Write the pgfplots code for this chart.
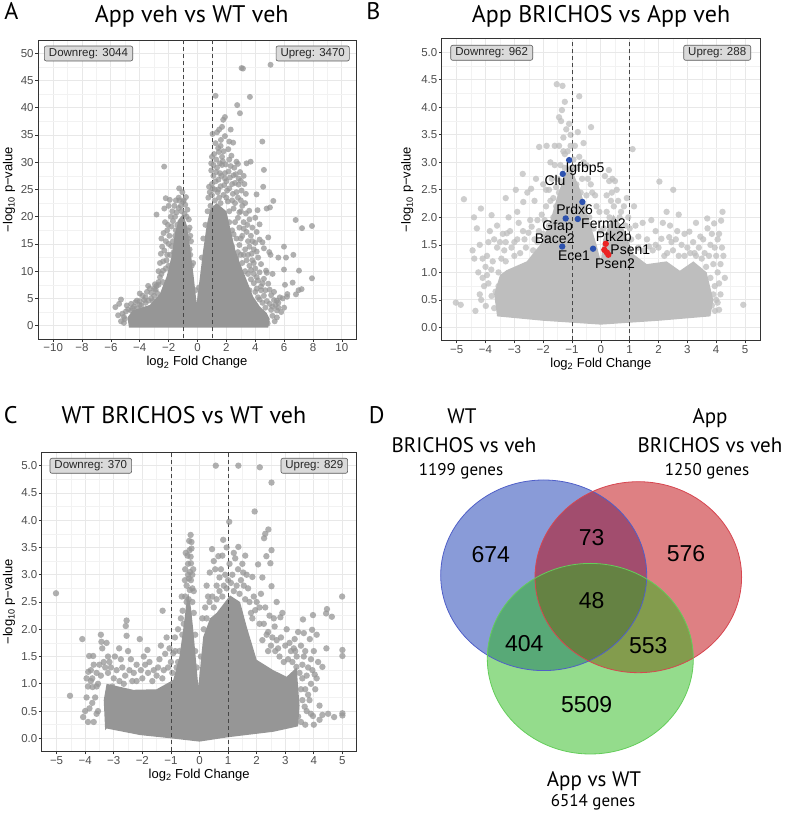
\documentclass[border=0pt]{standalone}
\usepackage{pgfplots}
\pgfplotsset{compat=1.18}
\usepackage{fontspec}
\setmainfont{Liberation Sans}
\newfontfamily\titlefont{PT Sans}
\definecolor{bordergray}{RGB}{51,51,51}
\definecolor{ticklab}{RGB}{77,77,77}
\definecolor{gridmaj}{RGB}{232,232,232}
\definecolor{gridmin}{RGB}{242,242,242}
\definecolor{massA}{RGB}{150,150,150}
\definecolor{ptA}{RGB}{150,150,150}
\definecolor{massB}{RGB}{190,190,190}
\definecolor{ptB}{RGB}{190,190,190}
\definecolor{hlblue}{RGB}{45,82,175}
\definecolor{hlred}{RGB}{235,35,35}
\definecolor{boxfill}{RGB}{218,218,218}
\definecolor{boxdraw}{RGB}{90,90,90}
\definecolor{dashc}{RGB}{70,70,70}
\definecolor{vblue}{RGB}{19,55,177}
\definecolor{vred}{RGB}{189,1,7}
\definecolor{vgreen}{RGB}{41,185,25}
\definecolor{vblueb}{RGB}{80,95,200}
\definecolor{vredb}{RGB}{215,70,80}
\definecolor{vgreenb}{RGB}{100,205,90}

\tikzset{
  dashv/.style={dashc, line width=0.8pt, dash pattern=on 4pt off 3pt},
  lbox/.style={draw=boxdraw, fill=boxfill, rounded corners=2pt, line width=0.6pt, inner sep=0pt, minimum height=15pt, font=\fontsize{11.5}{12}\selectfont, text=black!85},
  gene/.style={font=\fontsize{14}{15}\selectfont, anchor=base, text=black},
}
\pgfplotsset{
  volc/.style={
    scale only axis,
    anchor=south west,
    axis line style={bordergray, line width=0.9pt},
    tick pos=left,
    tick align=outside,
    major tick length=2.7pt,
    minor tick length=0pt,
    major tick style={bordergray, line width=0.7pt},
    grid=both,
    major grid style={gridmaj, line width=0.8pt},
    minor grid style={gridmin, line width=0.45pt},
    minor x tick num=1, minor y tick num=1,
    tick label style={font=\fontsize{11.5}{12}\selectfont, text=ticklab},
    xticklabel style={inner ysep=1.5pt},
    yticklabel style={inner xsep=1.5pt},
    label style={font=\fontsize{13}{14}\selectfont},
    xlabel={log\textsubscript{2} Fold Change},
    ylabel={−log\textsubscript{10} p−value},
    xlabel style={at={(axis description cs:0.5,0)}, anchor=base, yshift=-27pt},
  },
  dotsA/.style={only marks, mark=*, mark size=3pt, color=ptA, mark options={fill=ptA, draw opacity=0, fill opacity=0.75}},
  dotsB/.style={only marks, mark=*, mark size=3.2pt, color=ptB, mark options={fill=ptB, draw opacity=0, fill opacity=0.75}},
}

\begin{document}
\begin{tikzpicture}
\path[use as bounding box] (0pt,0pt) rectangle (790pt,813pt);

% ---------------- Panel A ----------------
\begin{axis}[volc, at={(38pt,474pt)}, width=318pt, height=299pt,
  xmin=-11.05, xmax=10.98, ymin=-2.45, ymax=52.45,
  xtick={-10,-8,-6,-4,-2,0,2,4,6,8,10}, xticklabels={−10,−8,−6,−4,−2,0,2,4,6,8,10},
  ytick={0,5,10,15,20,25,30,35,40,45,50}, yticklabels={0,5,10,15,20,25,30,35,40,45,50},
  ylabel style={at={(axis description cs:-0.0805,0.5)}, anchor=base}]
\addplot[fill=massA, draw=none] coordinates {
(-4.75,-0.35) (-4.85,1.5) (-4.5,2.8) (-3.3,3.8) (-2.6,5.9) (-2.14,9) (-1.8,12.7) (-1.56,17) (-1.3,19.5) (-1.0,20.5) (-0.75,18.5) (-0.52,14.5) (-0.29,9.6) (-0.06,4.1) (0.17,9) (0.4,14) (0.64,18.5) (0.9,21.5) (1.33,22.5) (2.0,21) (2.3,17.5) (2.6,14) (2.94,11.5) (3.4,8.4) (3.86,5.3) (4.32,3.5) (4.8,2.3) (5.0,1.2) (4.9,-0.35) (0,-0.35)};
\addplot[dotsA] table {
x y
3.05 47.3
3.15 47.2
5.06 47.9
1.25 42.2
3.63 42.0
2.75 40.5
2.94 39.0
1.9 38.3
1.78 37.8
1.04 35.2
1.62 34.1
2.47 33.6
4.49 33.8
1.43 32.6
2.13 32.4
1.48 31.9
1.8 32.0
-2.31 29.2
4.6 28.6
3.68 30.1
3.4 29.8
2.7 30.1
2.8 29.7
1.55 29.8
1.7 29.5
2.3 29.3
1.3 28.2
1.9 28.0
2.5 27.6
1.1 27.5
3.0 26.6
2.6 26.2
2.85 25.9
2.0 26.5
1.45 26.8
-1.27 25.2
4.55 25.5
4.09 24.1
3.35 24.2
2.2 25.2
1.6 25.6
1.0 24.0
0.9 22.0
5.25 22.9
4.79 21.5
5.02 21.7
-2.2 23.4
-1.92 23.1
-1.0 22.8
-0.85 22.2
-1.6 22.0
-0.7 21.3
-1.3 21.6
-2.84 20.4
6.8 19.4
7.24 17.9
7.93 18.3
4.16 21.2
3.58 21.1
3.35 20.6
3.1 22.0
2.5 21.5
2.9 20.8
3.2 19.0
3.6 19.5
4.0 19.8
4.3 18.6
4.1 17.2
3.7 16.5
-2.5 16.0
-2.45 14.5
-2.54 13.2
-2.38 11.8
-2.1 17.5
-1.8 18.2
-2.25 19.0
-1.55 20.0
-0.55 18.0
-0.45 15.5
0.4 16.0
0.55 18.5
0.7 21.0
5.99 14.5
6.64 13.0
6.13 12.5
5.6 12.5
5.06 13.0
4.97 13.5
4.6 14.2
4.9 16.2
4.5 15.3
3.9 14.0
3.5 15.5
7.03 10.1
5.99 10.3
5.2 9.5
4.75 10.1
4.8 9.7
7.93 8.7
6.59 7.9
6.06 7.5
7.21 6.7
7.0 6.5
6.22 5.8
6.82 5.75
6.2 5.3
5.9 5.0
5.5 4.6
5.7 5.2
4.86 0.4
4.4 11.3
4.2 8.3
3.9 9.5
4.5 7.8
5.0 6.6
5.3 4.7
5.1 2.9
5.4 3.8
-5.43 4.0
-5.69 3.4
-5.3 4.8
-4.9 3.7
-4.96 2.6
-5.04 1.2
-5.2 2.2
-4.0 5.9
-4.3 4.3
-3.42 7.3
-3.3 6.8
-2.84 7.3
-2.9 6.6
-2.38 10.1
-2.6 8.9
-2.1 13.0
-2.0 11.0
-3.0 5.5
-3.7 4.7
-4.5 3.2
-1.8 14.6
-1.55 16.5
-0.3 11.5
0.3 12.5
-0.15 6.5
0.1 7.0
2.8 13.5
3.1 11.5
3.3 10.0
2.4 17.5
2.6 19.0
2.1 22.8
1.5 23.5
1.2 25.0
1.0 26.0
1.2 23.0
1.4 24.5
1.6 22.5
1.8 24.0
2.0 23.5
2.2 21.0
2.4 23.0
2.6 22.5
2.8 23.5
1.3 30.5
1.7 31.0
2.2 30.5
1.1 29.5
1.9 27.0
2.4 26.0
2.7 24.5
3.0 23.0
3.3 22.5
2.9 18.0
3.1 16.5
3.3 14.0
2.7 16.0
1.25 33.5
1.5 36.0
1.0 31.0
0.95 28.5
0.8 25.5
0.75 23.5
3.8 12.0
4.0 10.5
4.2 12.5
3.6 11.0
3.5 13.0
4.4 6.5
4.6 5.5
4.1 6.8
3.7 8.5
4.8 4.5
5.2 3.5
5.5 2.8
4.3 4.8
3.0 13.0
2.2 19.0
-1.2 19.0
-1.1 21.0
-0.9 20.5
-1.4 18.5
-1.5 17.5
-1.7 15.5
-1.9 13.0
-2.0 15.0
-2.2 10.5
-2.4 8.0
-2.7 7.5
-3.2 5.0
-3.6 4.2
-4.0 3.8
-4.6 2.8
-5.1 1.6
-0.6 19.5
-0.65 16.0
-0.5 13.0
-0.4 11.0
-1.45 20.8
-1.25 23.0
-1.15 22.0
-0.95 23.0
-1.7 19.2
0.85 24.5
1.05 25.2
1.25 26.5
1.45 25.0
1.65 27.5
1.85 25.8
2.05 24.8
2.25 27.2
2.45 24.2
2.65 27.8
2.85 27.0
3.05 24.8
3.25 26.0
0.95 29.8
1.15 31.5
1.35 29.0
1.55 28.0
1.75 30.2
1.95 29.6
2.15 28.3
2.35 31.2
2.55 29.0
2.95 28.2
3.2 27.5
1.6 33.0
1.9 34.8
2.2 33.8
1.35 35.5
1.7 36.5
2.3 36.0
2.2 16.0
2.4 14.5
2.5 16.8
2.7 12.5
2.9 14.8
3.0 16.0
3.2 13.0
3.4 12.0
3.4 17.2
3.6 14.5
3.8 15.5
3.75 13.2
3.9 11.5
4.1 13.6
4.3 15.8
4.0 15.2
3.2 17.8
2.8 19.8
3.0 21.0
3.45 18.5
3.8 18.0
3.5 9.5
3.7 10.2
3.9 7.8
4.1 8.9
4.3 9.8
4.4 7.2
4.6 8.6
4.7 6.5
4.9 7.7
5.1 5.6
5.3 6.2
4.5 4.2
4.7 3.3
5.0 4.0
5.6 3.3
4.0 6.2
4.2 5.2
3.6 6.5
-1.3 23.5
-1.05 24.5
-0.8 23.6
-1.5 23.0
-1.75 21.0
-2.0 22.0
-2.3 21.5
-1.85 20.0
-2.05 18.5
-2.35 17.0
-2.2 15.5
-1.95 16.5
-2.3 13.8
-2.15 12.0
-1.65 13.5
-0.75 20.0
-0.65 17.5
-0.5 16.5
-0.55 14.0
-2.6 11.5
-2.7 10.0
-2.5 9.5
-4.8 3.0
-4.6 4.0
-4.4 3.5
-4.2 4.6
-4.0 4.5
-3.8 5.5
-3.6 5.2
-3.4 4.6
-3.2 6.0
-3.0 6.8
-2.8 6.0
-2.7 8.0
-3.5 6.2
-3.9 3.7
-4.2 3.2
-2.95 7.6
-3.1 4.5
5.2 1.8
5.5 1.5
5.8 2.5
6.0 3.3
5.35 0.8
5.6 4.2
-5.3 0.8
-5.5 1.9
-5.1 0.5
};
\addplot[dashv] coordinates {(-1,-10) (-1,60)};
\addplot[dashv] coordinates {(1,-10) (1,60)};
\end{axis}

% ---------------- Panel B ----------------
\begin{axis}[volc, at={(441.7pt,472.3pt)}, width=318.3pt, height=302.4pt,
  xmin=-5.52, xmax=5.52, ymin=-0.242, ymax=5.255,
  xtick={-5,-4,-3,-2,-1,0,1,2,3,4,5}, xticklabels={−5,−4,−3,−2,−1,0,1,2,3,4,5},
  ytick={0,0.5,1,1.5,2,2.5,3,3.5,4,4.5,5}, yticklabels={0.0,0.5,1.0,1.5,2.0,2.5,3.0,3.5,4.0,4.5,5.0},
  ylabel style={at={(axis description cs:-0.0974,0.5)}, anchor=base}]
\addplot[fill=massB, draw=none] coordinates {
(-3.6,0.2) (-3.7,0.6) (-3.5,0.95) (-3.27,1.04) (-2.57,1.2) (-2.11,1.5) (-1.77,1.9) (-1.53,2.35) (-1.3,2.7) (-1.1,2.95) (-0.95,2.8) (-0.72,2.5) (-0.38,1.9) (-0.15,1.5) (0,1.2) (0.08,1.6) (0.43,2.05) (0.78,1.8) (1.13,1.33) (1.59,1.15) (2.28,1.2) (2.74,1.03) (3.21,1.2) (3.67,1.0) (3.9,0.5) (3.8,0.2) (2,0.12) (0,0.05) (-2,0.12)};
\addplot[dotsB] table {
x y
-5.03 0.45
-4.86 0.41
-4.75 2.33
-4.16 2.16
-4.39 1.25
-3.99 0.39
-3.79 0.57
-3.79 2.04
-3.85 1.75
-3.7 1.6
-3.6 1.45
-3.5 1.55
-3.4 1.7
-3.26 1.71
-3.1 1.45
-2.9 1.6
-2.7 1.75
-2.51 1.72
-2.4 1.83
-2.3 1.6
-2.2 1.95
-2.05 2.05
-1.9 2.2
-2.71 2.79
-2.42 2.52
-2.69 2.28
-2.14 3.28
-1.88 3.3
-1.53 4.42
-1.33 4.39
-0.75 4.2
-1.45 3.82
-1.38 3.75
-1.6 3.3
-1.3 3.45
-1.2 3.6
-1.05 3.5
-0.9 3.3
-0.95 3.05
-1.25 3.15
-1.7 2.7
-1.8 2.5
-1.55 2.55
-0.34 3.64
-0.6 3.0
-0.45 2.7
-0.3 2.45
-0.15 2.2
-0.5 2.4
1.10 3.24
0.28 2.86
0.14 2.75
0.29 2.66
0.49 2.66
0.38 2.45
0.6 2.3
0.8 2.2
0.95 2.0
1.2 1.85
0.3 2.0
2.03 2.65
2.51 2.5
2.28 2.1
1.9 1.75
2.1 1.61
2.37 1.64
1.67 1.47
2.6 1.6
2.8 1.5
3.07 1.74
3.2 1.55
3.4 1.45
3.55 1.6
3.69 1.98
3.93 1.89
4.17 1.94
4.22 2.1
3.85 1.7
3.8 1.5
3.75 1.3
3.9 1.15
4.05 1.0
4.1 0.8
4.0 1.3
3.96 0.3
4.1 0.32
4.94 0.41
-4.1 0.9
-4.0 1.1
-4.2 0.6
-3.95 1.3
-4.15 0.5
-4.05 0.75
-3.95 0.95
-3.75 1.2
-3.55 1.0
-3.45 1.25
-3.35 1.4
-3.65 0.65
-4.2 1.5
-4.3 1.8
-3.9 1.55
-3.3 1.2
-3.0 1.3
-2.8 1.35
-2.6 1.45
-2.2 1.55
-2.0 1.7
-1.8 1.85
-1.65 2.0
-1.55 2.2
-1.45 2.45
-1.35 2.65
-1.25 2.9
-1.15 3.2
-1.0 2.9
-0.85 2.6
-0.7 2.45
-0.55 2.2
-0.4 2.0
-0.25 1.8
0.1 1.8
0.2 2.1
0.45 2.2
0.65 2.0
0.85 1.85
1.05 1.6
1.3 1.45
1.5 1.4
1.8 1.4
2.0 1.45
2.3 1.35
2.5 1.4
2.7 1.3
2.9 1.3
3.1 1.35
3.3 1.3
3.5 1.25
3.65 1.1
3.8 0.9
3.9 0.6
3.85 0.4
4.0 0.5
4.15 1.15
4.2 1.45
4.05 1.6
-2.3 2.3
-2.0 2.6
-1.75 3.0
-4.35 0.3
-4.25 1.0
-4.45 1.4
-4.1 1.25
-3.9 0.8
-3.8 1.05
-3.7 0.35
-3.55 0.75
-3.45 0.5
-3.3 1.55
-3.15 1.75
-3.0 1.55
-2.85 1.9
-2.65 1.6
-2.45 1.95
-2.35 1.4
-2.15 1.75
-1.95 1.95
-4.4 2.0
-3.6 1.85
-3.2 2.0
-2.9 2.1
-3.3 2.35
-2.95 2.5
-2.55 2.45
-2.25 2.7
-1.65 2.35
-1.5 2.7
-1.4 2.95
-1.3 3.2
-1.45 3.3
-1.2 2.6
-1.05 3.3
-0.85 2.9
-0.75 3.1
-0.65 2.7
-0.5 2.95
-0.35 2.6
-0.2 2.4
-0.05 2.1
-1.6 2.95
-1.75 2.3
-1.9 2.5
-0.8 3.55
-1.1 3.7
-0.6 3.35
-1.35 3.95
-1.25 4.1
0.0 1.75
0.2 2.4
0.35 2.3
0.55 2.5
0.7 2.1
0.9 2.35
1.0 1.8
1.15 2.2
1.3 1.65
1.45 1.9
1.6 1.6
1.75 1.95
1.9 1.5
2.15 1.9
0.4 2.7
2.2 1.3
2.45 1.55
2.65 1.75
2.9 1.7
3.0 1.45
3.25 1.35
3.45 1.65
3.6 1.35
3.7 1.8
3.95 1.45
4.1 1.7
4.25 1.3
4.15 0.6
4.05 0.45
4.3 0.9
3.95 0.75
2.7 2.05
3.3 1.9
2.4 1.85
};
\addplot[dashv] coordinates {(-1,-1) (-1,6)};
\addplot[dashv] coordinates {(1,-1) (1,6)};
\addplot[only marks, mark=*, mark size=3.2pt, color=hlblue, mark options={fill=hlblue, draw opacity=0}] table {
x y
-1.10 3.04
-1.32 2.79
-0.64 2.28
-1.22 1.98
-0.80 1.97
-1.34 1.47
-0.27 1.43
};
\addplot[only marks, mark=*, mark size=3.2pt, color=hlred, mark options={fill=hlred, draw opacity=0}] table {
x y
0.17 1.52
0.12 1.41
0.21 1.36
0.26 1.32
};
\end{axis}

% gene labels of panel B, on top of the points
\node[gene] at (585.0pt,640.7pt) {Igfbp5};
\node[gene] at (555.0pt,627.0pt) {Clu};
\node[gene] at (574.6pt,598.9pt) {Prdx6};
\node[gene] at (557.6pt,582.4pt) {Gfap};
\node[gene] at (603.4pt,584.1pt) {Fermt2};
\node[gene] at (554.7pt,569.2pt) {Bace2};
\node[gene] at (574.0pt,552.2pt) {Ece1};
\node[gene] at (613.8pt,571.4pt) {Ptk2b};
\node[gene] at (630.3pt,558.8pt) {Psen1};
\node[gene] at (615.0pt,544.5pt) {Psen2};

% ---------------- Panel C ----------------
\begin{axis}[volc, at={(41.7pt,61.3pt)}, width=315pt, height=299.4pt,
  xmin=-5.52, xmax=5.5, ymin=-0.245, ymax=5.245,
  xtick={-5,-4,-3,-2,-1,0,1,2,3,4,5}, xticklabels={−5,−4,−3,−2,−1,0,1,2,3,4,5},
  ytick={0,0.5,1,1.5,2,2.5,3,3.5,4,4.5,5}, yticklabels={0.0,0.5,1.0,1.5,2.0,2.5,3.0,3.5,4.0,4.5,5.0},
  ylabel style={at={(axis description cs:-0.093,0.5)}, anchor=base}]
\addplot[fill=massA, draw=none] coordinates {
(-3.3,0.15) (-3.35,0.7) (-3.25,1.0) (-2.32,0.89) (-1.5,0.9) (-0.92,1.07) (-0.7,1.5) (-0.57,2.0) (-0.45,2.5) (-0.39,2.66) (-0.3,2.4) (-0.22,2.0) (-0.04,0.95) (0.13,1.86) (0.37,2.2) (0.6,2.3) (1.07,2.62) (1.42,2.5) (1.65,2.05) (2.0,1.44) (2.58,1.25) (3.05,1.13) (3.4,1.3) (3.5,0.6) (3.45,0.22) (2.58,0.12) (1.0,0.02) (0.0,-0.06) (-1.0,0.0) (-2.08,0.06) (-3.25,0.18)};
\addplot[dotsA, mark size=3.2pt] table {
x y
-5.02 2.66
-4.53 0.78
-4.1 1.82
-4.07 0.39
-3.86 1.51
-3.72 1.51
-3.43 1.77
-3.89 1.22
-3.95 1.1
-3.8 1.05
-3.6 1.2
-3.5 1.35
-3.74 0.94
-3.9 0.3
-3.7 0.3
-3.55 0.5
-3.85 0.55
-3.65 0.75
-2.55 2.16
-2.58 2.06
-2.55 1.88
-2.81 1.65
-2.96 1.5
-3.2 1.5
-3.1 1.3
-2.7 1.3
-2.4 1.45
-2.3 1.2
-2.09 1.82
-1.82 1.62
-1.9 1.35
-1.6 1.25
-1.4 1.45
-1.29 2.34
-1.15 1.85
-0.86 1.85
-0.92 1.56
-1.1 1.3
-0.51 2.9
-0.31 3.73
-0.36 3.62
-0.28 3.48
-0.31 3.33
-0.3 3.21
-0.37 2.93
-0.34 2.72
-0.59 2.34
-0.25 3.0
-0.2 2.7
-0.45 2.5
-0.6 1.9
-0.7 1.6
0.57 5.0
1.36 5.0
2.11 4.97
2.52 4.69
1.93 4.16
1.04 3.97
0.83 3.64
0.44 3.47
0.66 3.34
0.95 3.5
1.2 3.4
1.36 3.51
1.25 3.3
1.5 3.2
2.41 3.83
2.3 3.75
2.26 3.67
2.52 3.45
2.34 3.34
2.48 3.21
2.05 3.19
1.85 2.96
2.52 2.79
1.53 3.04
0.36 3.04
0.6 2.8
0.3 2.6
0.9 3.0
1.1 2.85
0.7 2.7
1.7 2.75
2.0 2.5
2.3 2.4
2.6 2.2
2.9 2.3
2.83 2.22
2.63 2.05
2.4 1.95
2.7 1.8
3.0 1.7
3.2 1.6
3.4 1.5
3.33 1.82
3.65 1.5
3.39 1.31
3.6 1.1
3.8 1.3
3.7 0.9
3.6 0.7
3.75 0.5
3.68 0.58
3.97 0.41
4.2 0.34
4.3 0.43
4.5 0.45
4.71 0.39
5.0 0.46
5.0 0.42
4.03 1.17
4.3 1.31
4.44 1.65
5.0 1.62
5.0 1.51
3.86 1.82
3.65 1.93
3.94 1.99
3.62 2.18
3.97 2.26
4.43 2.29
4.46 2.37
4.63 2.23
4.99 2.6
4.0 1.6
3.9 1.45
4.1 1.9
-3.75 1.1
-3.6 0.95
-3.45 1.15
-3.35 1.4
-3.2 1.2
-3.0 1.1
-2.8 1.05
-2.6 1.15
-2.5 1.6
-2.2 1.05
-2.0 1.1
-1.8 1.2
-1.5 1.15
-1.3 1.1
-1.2 1.55
-1.0 1.4
-0.8 1.3
-0.75 2.0
-0.65 2.2
-0.5 3.1
-0.42 3.35
-0.4 3.0
-0.25 2.5
-0.15 1.6
-0.1 1.3
0.1 2.2
0.2 2.4
0.25 2.8
0.45 2.6
0.55 3.1
0.75 3.1
0.85 2.8
1.05 3.2
1.3 2.8
1.45 2.9
1.6 2.55
1.8 2.3
1.9 2.6
2.1 2.1
2.2 1.8
2.4 1.6
2.5 1.7
2.8 1.5
3.1 1.45
3.3 1.65
3.5 1.2
3.55 0.9
3.45 0.4
3.8 0.8
3.9 1.0
4.1 1.1
-4.0 0.5
-3.95 0.75
-3.9 0.95
-3.8 1.25
-3.7 1.35
-3.75 0.65
-3.6 0.45
-3.55 1.0
-3.4 1.65
-3.3 1.3
-3.15 1.4
-3.05 0.95
-2.9 1.25
-2.75 1.45
-2.65 1.0
-2.45 1.25
-2.35 1.05
-2.2 1.35
-2.05 1.25
-1.95 1.5
-1.75 1.4
-1.65 1.05
-1.45 1.3
-1.35 1.7
-1.25 1.25
-1.05 1.65
-0.95 1.2
-0.85 1.6
-0.75 1.4
-3.45 1.9
-3.25 1.75
-0.55 2.1
-0.5 2.6
-0.45 2.8
-0.4 3.2
-0.35 3.45
-0.3 2.9
-0.25 2.75
-0.2 2.3
-0.15 1.9
-0.33 3.05
-0.38 2.55
-0.28 3.6
-0.22 3.1
-0.62 2.6
-0.48 3.4
0.05 1.5
0.15 2.0
0.25 2.2
0.35 2.5
0.5 2.4
0.6 2.55
0.7 2.95
0.8 2.6
0.95 2.75
1.0 2.9
1.15 3.0
1.2 2.7
1.35 3.1
1.4 2.65
1.55 2.8
1.65 3.0
1.75 2.5
1.85 2.2
1.95 2.35
2.1 2.4
2.15 2.65
2.25 2.1
2.35 1.9
2.45 2.25
2.55 1.85
2.65 1.6
0.5 3.25
0.8 3.35
1.6 3.35
2.2 2.95
2.7 2.5
2.75 1.65
2.85 1.85
2.95 1.4
3.05 2.0
3.15 1.75
3.25 1.4
3.35 1.6
3.45 1.95
3.55 1.7
3.6 1.35
3.7 1.6
3.75 1.15
3.85 0.7
3.9 0.45
3.95 1.25
4.05 0.9
4.15 1.4
4.2 0.6
3.55 0.3
3.7 0.25
4.0 0.25
};
\addplot[dashv] coordinates {(-1,-1) (-1,6)};
\addplot[dashv] coordinates {(1,-1) (1,6)};
\end{axis}

% ---------------- Panel D (Venn) ----------------
\begin{axis}[at={(400pt,0pt)}, anchor=south west, scale only axis, width=390pt, height=413pt,
  xmin=400, xmax=790, ymin=0, ymax=413, hide axis, clip=false]
\fill[vblue, fill opacity=0.5] (axis cs:543.7,237.7) ellipse [x radius=103, y radius=95.3];
\fill[vred, fill opacity=0.5] (axis cs:638.3,235.8) ellipse [x radius=103.3, y radius=95.5];
\fill[vgreen, fill opacity=0.5] (axis cs:590.3,154.3) ellipse [x radius=103, y radius=95.3];
\draw[vblueb, line width=0.8pt] (axis cs:543.7,237.7) ellipse [x radius=103, y radius=95.3];
\draw[vredb, line width=0.8pt] (axis cs:638.3,235.8) ellipse [x radius=103.3, y radius=95.5];
\draw[vgreenb, line width=0.8pt] (axis cs:590.3,154.3) ellipse [x radius=103, y radius=95.3];
\node[font=\fontsize{23}{24}\selectfont] at (axis cs:490.7,258) {674};
\node[font=\fontsize{23}{24}\selectfont] at (axis cs:591.7,275.7) {73};
\node[font=\fontsize{23}{24}\selectfont] at (axis cs:686,259) {576};
\node[font=\fontsize{23}{24}\selectfont] at (axis cs:591.7,212.3) {48};
\node[font=\fontsize{23}{24}\selectfont] at (axis cs:524.3,169.7) {404};
\node[font=\fontsize{23}{24}\selectfont] at (axis cs:648.3,167.3) {553};
\node[font=\fontsize{23}{24}\selectfont] at (axis cs:586.7,108) {5509};
\end{axis}

% ---------------- Text ----------------
\node[font=\titlefont\fontsize{24}{26}\selectfont, anchor=base] at (191.7pt,790.7pt) {App veh vs WT veh};
\node[font=\titlefont\fontsize{24}{26}\selectfont, anchor=base] at (601pt,790.3pt) {App BRICHOS vs App veh};
\node[font=\titlefont\fontsize{24}{26}\selectfont, anchor=base] at (184pt,389.7pt) {WT BRICHOS vs WT veh};
\node[font=\titlefont\fontsize{24}{26}\selectfont, anchor=base] at (11.3pt,793pt) {A};
\node[font=\titlefont\fontsize{24}{26}\selectfont, anchor=base] at (373.3pt,793pt) {B};
\node[font=\titlefont\fontsize{24}{26}\selectfont, anchor=base] at (10.8pt,389pt) {C};
\node[font=\titlefont\fontsize{24}{26}\selectfont, anchor=base] at (376.7pt,389pt) {D};

\node[lbox, minimum width=88.4pt] at (88.5pt,759.5pt) {Downreg: 3044};
\node[lbox, minimum width=73.3pt] at (312.7pt,759.5pt) {Upreg: 3470};
\node[lbox, minimum width=82pt] at (491.7pt,760.2pt) {Downreg: 962};
\node[lbox, minimum width=67pt] at (717.2pt,760.2pt) {Upreg: 288};
\node[lbox, minimum width=81.7pt] at (90.8pt,347.2pt) {Downreg: 370};
\node[lbox, minimum width=66.7pt] at (314.3pt,347.2pt) {Upreg: 829};

\node[font=\titlefont\fontsize{21}{22}\selectfont, anchor=base] at (462pt,389pt) {WT};
\node[font=\titlefont\fontsize{21}{22}\selectfont, anchor=base] at (464pt,360.3pt) {BRICHOS vs veh};
\node[font=\titlefont\fontsize{17}{18}\selectfont, anchor=base] at (461pt,337pt) {1199 genes};
\node[font=\titlefont\fontsize{21}{22}\selectfont, anchor=base] at (710pt,389pt) {App};
\node[font=\titlefont\fontsize{21}{22}\selectfont, anchor=base] at (710pt,360.3pt) {BRICHOS vs veh};
\node[font=\titlefont\fontsize{17}{18}\selectfont, anchor=base] at (707pt,337pt) {1250 genes};
\node[font=\titlefont\fontsize{21}{22}\selectfont, anchor=base] at (594pt,27pt) {App vs WT};
\node[font=\titlefont\fontsize{17}{18}\selectfont, anchor=base] at (593pt,6pt) {6514 genes};
\end{tikzpicture}
\end{document}
